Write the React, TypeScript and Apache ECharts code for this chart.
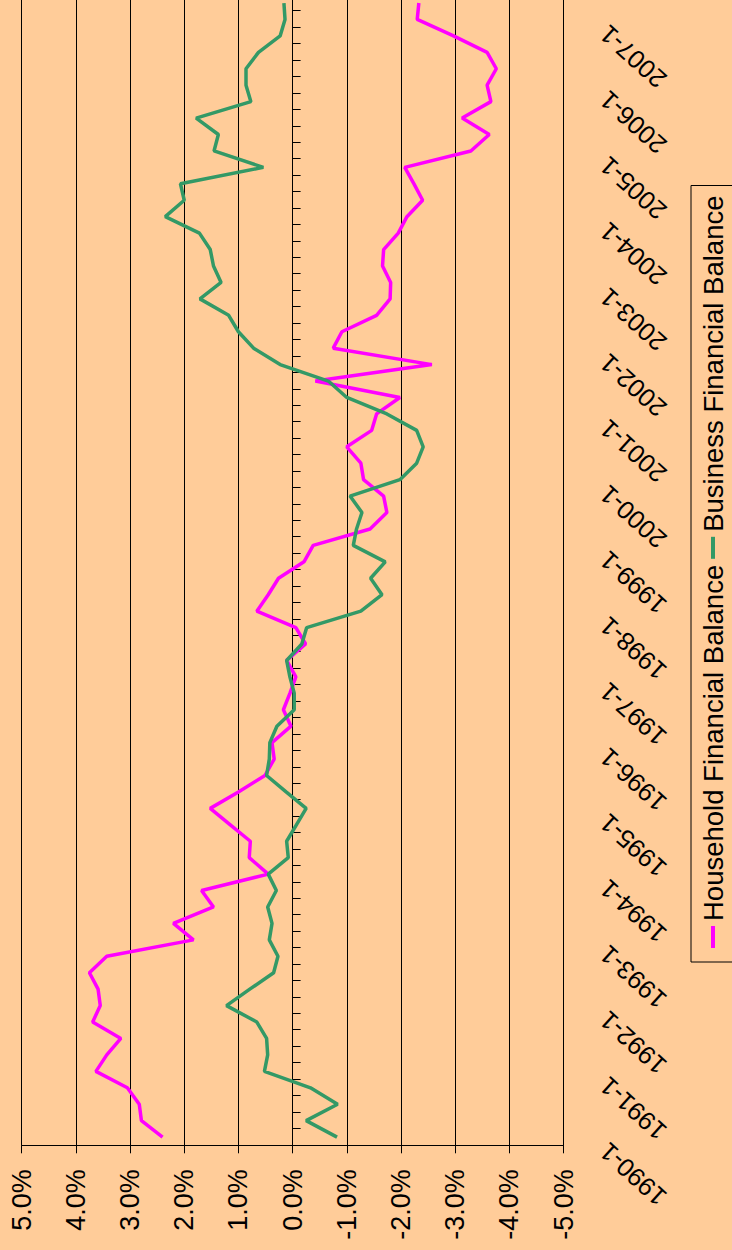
import React, { useEffect, useRef } from "react";
import * as echarts from "echarts";

const FONT = "'Liberation Sans', Arial, sans-serif";

const years: number[] = [1990, 1991, 1992, 1993, 1994, 1995, 1996, 1997, 1998, 1999, 2000, 2001, 2002, 2003, 2004, 2005, 2006, 2007];
const quarterNumbers: number[] = [1, 2, 3, 4];
const quarterCount = 70;
const categories: string[] = [];
for (const y of years) {
  for (const q of quarterNumbers) {
    if (categories.length < quarterCount) categories.push(`${y}-${q}`);
  }
}

const householdBalance: number[] = [
  2.40, 2.79, 2.83, 3.05, 3.63, 3.43, 3.17, 3.69, 3.55, 3.59, 3.75, 3.43,
  1.83, 2.20, 1.46, 1.68, 0.45, 0.80, 0.78, 1.15, 1.52, 1.00, 0.51, 0.34,
  0.38, 0.03, 0.17, 0.05, -0.06, 0.11, -0.24, -0.06, 0.66, 0.45, 0.26, -0.21,
  -0.38, -1.43, -1.74, -1.68, -1.31, -1.26, -1.00, -1.46, -1.55, -1.98, -0.42, -2.57,
  -0.75, -0.91, -1.55, -1.80, -1.81, -1.66, -1.68, -1.95, -2.11, -2.40, -2.24, -2.07,
  -3.29, -3.63, -3.13, -3.66, -3.59, -3.76, -3.59, -2.97, -2.30, -2.33,
];

const businessBalance: number[] = [
  -0.82, -0.25, -0.83, -0.33, 0.52, 0.46, 0.48, 0.66, 1.22, 0.79, 0.35, 0.27,
  0.43, 0.38, 0.46, 0.30, 0.45, 0.08, 0.11, -0.07, -0.25, 0.12, 0.48, 0.43,
  0.42, 0.29, -0.03, -0.03, 0.05, 0.11, -0.17, -0.26, -1.26, -1.65, -1.44, -1.71,
  -1.12, -1.18, -1.28, -1.06, -1.98, -2.29, -2.41, -2.29, -1.74, -1.00, -0.66, 0.23,
  0.72, 1.00, 1.18, 1.71, 1.32, 1.46, 1.52, 1.72, 2.35, 2.00, 2.07, 0.54,
  1.45, 1.37, 1.78, 0.77, 0.86, 0.86, 0.63, 0.23, 0.14, 0.16,
];

const seriesNames: string[] = ["Household Financial Balance", "Business Financial Balance"];
const seriesColors: string[] = ["#FF00FF", "#339966"];

export default function App() {
  const ref = useRef<HTMLDivElement>(null);

  useEffect(() => {
    if (!ref.current) return;
    const chart = echarts.init(ref.current, null, { renderer: "svg" });
    chart.setOption({
      animation: false,
      backgroundColor: "#FFCC99",
      textStyle: { fontFamily: FONT },
      grid: { left: 104.7, right: 4.8, top: 21.7, bottom: 168.5, containLabel: false },
      legend: {
        left: 288,
        top: 691,
        orient: "horizontal",
        padding: [8, 10, 8, 14],
        itemGap: 6,
        itemWidth: 22,
        itemHeight: 4,
        icon: "rect",
        borderColor: "#000",
        borderWidth: 1,
        textStyle: { fontSize: 27.5, color: "#000", fontFamily: FONT },
        data: seriesNames.map((n, i) => ({ name: n, itemStyle: { color: seriesColors[i] } })),
      },
      xAxis: [
        {
          type: "category",
          data: categories,
          boundaryGap: true,
          position: "bottom",
          axisLine: { show: false, onZero: false },
          axisTick: { show: false },
          axisLabel: {
            interval: 3,
            rotate: 48,
            margin: 28,
            fontSize: 25.5,
            color: "#000",
            fontFamily: FONT,
            padding: [0, 16, 21, 0],
          },
          splitLine: { show: false },
        },
        {
          type: "category",
          data: categories,
          boundaryGap: true,
          position: "bottom",
          axisLine: { show: true, onZero: true, lineStyle: { color: "#000", width: 1 } },
          axisTick: { show: true, interval: 0, length: 8, inside: false, lineStyle: { color: "#000" } },
          axisLabel: { show: false },
          splitLine: { show: false },
        },
      ],
      yAxis: {
        type: "value",
        min: -5,
        max: 5,
        interval: 1,
        axisLine: { show: true, lineStyle: { color: "#000", width: 1 } },
        axisTick: { show: true, length: 8, lineStyle: { color: "#000" } },
        axisLabel: {
          formatter: (v: number) => v.toFixed(1) + "%",
          fontSize: 27,
          color: "#000",
          margin: 24,
          fontFamily: FONT,
        },
        splitLine: { show: true, lineStyle: { color: "#000", width: 1 } },
      },
      series: [
        {
          name: seriesNames[0],
          type: "line",
          xAxisIndex: 0,
          data: householdBalance,
          symbol: "none",
          lineStyle: { color: seriesColors[0], width: 3.5 },
          itemStyle: { color: seriesColors[0] },
        },
        {
          name: seriesNames[1],
          type: "line",
          xAxisIndex: 0,
          data: businessBalance,
          symbol: "none",
          lineStyle: { color: seriesColors[1], width: 3.5 },
          itemStyle: { color: seriesColors[1] },
        },
      ],
    });
    return () => chart.dispose();
  }, []);

  return (
    <div
      style={{
        position: "fixed",
        left: 0,
        top: 0,
        width: 732,
        height: 1250,
        overflow: "hidden",
        background: "#FFCC99",
      }}
    >
      <div
        ref={ref}
        style={{
          position: "absolute",
          left: 0,
          top: 0,
          width: 1260,
          height: 732,
          transformOrigin: "0 0",
          transform: "translate(0px, 1250px) rotate(-90deg)",
        }}
      />
    </div>
  );
}
